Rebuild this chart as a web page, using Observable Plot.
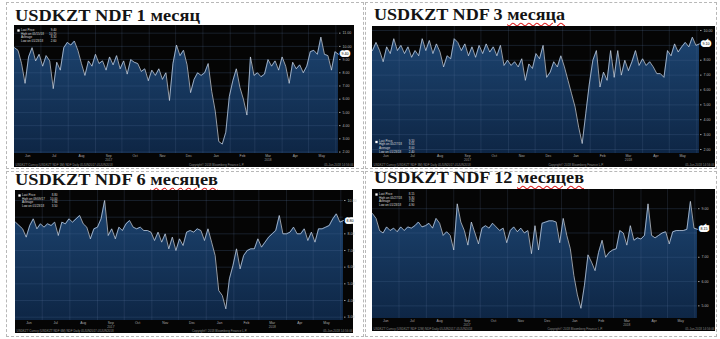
<!DOCTYPE html>
<html><head><meta charset="utf-8">
<script src="https://cdn.jsdelivr.net/npm/d3@7"></script>
<script src="https://cdn.jsdelivr.net/npm/@observablehq/plot@0.6"></script>
<style>
html,body{margin:0;padding:0;background:#fff}
body{width:720px;height:339px;overflow:hidden;position:relative}
.panel{position:absolute;border:1px dashed #b8b8b8;box-sizing:border-box}
.title{position:absolute;font-family:"Liberation Serif","Times New Roman",serif;font-weight:bold;font-size:16px;color:#141414;white-space:nowrap;line-height:1;transform-origin:0 0}
.sp{text-decoration:underline wavy #d22;text-decoration-thickness:0.5px;text-underline-offset:1.5px}
.chart{position:absolute;background:#050505}
.chart svg{display:block}
</style></head><body>
<script>
// ---- data ----
const startDate = "2017-06-01";
const stepDays = 4;
const titles = ["USDKZT NDF 1 месяц", "USDKZT NDF 3 месяца", "USDKZT NDF 6 месяцев", "USDKZT NDF 12 месяцев"];
const tenors = ["1M", "3M", "6M", "12M"];
const values1M = [9.9,9.7,8.7,7.2,9.2,9.9,8.9,9.4,8.5,9.3,
8.9,6.8,8.8,8.2,9.9,10.3,10.1,10.4,9.7,8.7,
7.8,8.9,8.5,9.4,8.7,8.9,8.2,9.2,8.6,9.3,
8.3,8.9,7.9,9.0,8.8,8.7,8.1,8.3,7.4,8.2,
7.8,8.3,7.5,8.0,5.9,8.7,10.1,9.3,9.7,8.6,
6.5,7.5,8.0,7.8,8.0,8.7,6.6,5.1,2.8,2.6,
3.5,6.2,7.4,8.3,6.9,6.0,4.8,9.2,7.8,8.0,
7.7,7.9,9.0,8.5,8.9,8.2,9.2,8.5,7.2,8.8,
8.3,8.6,8.0,8.5,9.6,9.7,9.4,10.7,9.4,9.3,
8.2,9.6,9.4];
const values3M = [8.65,9.2,8.65,7.9,8.9,8.45,9.45,8.65,9.0,8.45,
8.9,8.2,8.65,8.3,9.45,8.65,9.33,8.45,9.1,8.55,
7.55,8.3,8.1,9.45,9.2,8.65,9.1,8.3,8.9,8.2,
9.0,8.45,9.1,8.55,8.9,8.3,9.0,7.65,8.0,7.65,
7.9,7.55,8.1,6.65,7.75,7.45,8.45,8.1,9.0,6.85,
7.2,7.9,7.55,8.3,7.55,6.65,5.75,4.85,3.5,2.4,
4.4,6.4,8.0,8.65,6.2,7.2,6.65,8.65,6.85,8.65,
7.0,8.0,7.3,7.9,8.65,7.65,8.1,7.65,7.9,7.55,
7.1,7.1,6.85,8.65,8.3,9.1,8.55,8.9,9.2,8.9,
9.55,9.0,9.1];
const values6M = [8.7,8.5,8.3,7.8,8.5,8.9,8.3,8.6,8.4,8.6,
8.5,8.7,7.9,8.7,8.6,8.9,8.7,8.9,9.1,8.6,
8.4,7.7,8.3,8.4,8.9,10.0,7.9,8.3,7.7,8.4,
8.2,8.6,8.8,8.4,8.3,8.4,8.2,8.2,8.1,7.6,
8.1,7.5,8.0,7.1,7.8,7.0,7.7,7.3,8.1,8.2,
8.1,8.3,8.2,7.6,8.3,7.5,6.7,4.6,4.3,3.5,
5.3,6.1,7.1,5.9,6.7,7.0,7.1,7.1,7.7,7.2,
7.5,7.8,8.0,8.2,9.1,8.0,8.0,8.1,8.4,8.0,
8.0,8.3,7.6,8.1,7.5,8.3,8.3,8.4,8.5,8.9,
9.2,8.7,8.8];
const values12M = [8.8,8.6,8.1,8.0,8.25,8.1,8.2,8.05,8.25,8.1,
8.25,8.2,8.3,8.45,8.25,8.3,8.4,8.2,8.6,8.4,
7.9,8.05,7.9,7.3,9.2,8.45,8.1,7.5,8.45,8.0,
7.55,8.2,8.3,8.2,8.4,8.25,8.1,8.2,7.6,8.1,
8.25,8.05,8.2,8.0,8.1,7.15,8.3,7.3,8.4,8.45,
8.5,8.5,8.45,7.6,8.6,7.9,7.35,6.25,5.45,4.9,
5.85,7.1,6.8,6.45,7.2,7.7,7.0,7.2,7.3,7.35,
8.1,8.0,7.5,8.3,7.7,7.8,7.75,7.9,9.2,7.9,
7.8,7.9,8.0,8.05,7.55,8.05,8.1,8.1,8.1,8.15,
9.3,8.2,8.15];
const ticks1M = [2,3,4,5,6,7,8,9,10,11];
const ticks3M = [2,3,4,5,6,7,8,9,10];
const ticks6M = [3,4,5,6,7,8,9,10];
const ticks12M = [5,6,7,8,9];
const monthLabels = ["Jun","Jul","Aug","Sep","Oct","Nov","Dec","Jan","Feb","Mar","Apr","May"];
const monthStarts = ["2017-07-01","2017-08-01","2017-09-01","2017-10-01","2017-11-01","2017-12-01","2018-01-01","2018-02-01","2018-03-01","2018-04-01","2018-05-01","2018-06-01"];
const monthMids = ["2017-06-16","2017-07-16","2017-08-16","2017-09-16","2017-10-16","2017-11-16","2017-12-16","2018-01-16","2018-02-15","2018-03-16","2018-04-16","2018-05-16"];
const yearLabels = ["2017","2018"];
const yearAt = ["2017-09-16","2018-03-16"];
const footerMid = "Copyright© 2018 Bloomberg Finance L.P.";
const footerRight = "05-Jun-2018 14:56:06";

// ---- layout ----
const layout = [
  {values: values1M, ticks: ticks1M, box:[6,2,358,167], title:[15,8,185], chart:[14,25,340,142], mr:16, mb:14, y:[1.89,11.58], legend:"top"},
  {values: values3M, ticks: ticks3M, box:[365,2,352,167], title:[374,6.5,191], chart:[372,26,343,141], mr:16, mb:14, y:[1.73,10.27], legend:"bottom"},
  {values: values6M, ticks: ticks6M, box:[6,171,358,166], title:[15,171.5,203], chart:[15,190,338,143], mr:10, mb:13, y:[2.8,10.6], legend:"top"},
  {values: values12M, ticks: ticks12M, box:[365,171,352,166], title:[374,169.5,210], chart:[372,189,343,142], mr:18, mb:13, y:[4.48,9.79], legend:"top"}
];

const parse = d3.utcParse("%Y-%m-%d");
const start = parse(startDate);
const fmtD = d3.utcFormat("%m/%d/%y");

layout.forEach((L, k) => {
  const box = document.createElement("div");
  box.className = "panel";
  Object.assign(box.style, {left:L.box[0]+"px", top:L.box[1]+"px", width:L.box[2]+"px", height:L.box[3]+"px"});
  document.body.appendChild(box);

  const t = document.createElement("div");
  t.className = "title";
  const words = titles[k].split(" ");
  const last = words.pop();
  t.innerHTML = words.join(" ") + " " + (k === 0 ? last : `<span class="sp">${last}</span>`);
  Object.assign(t.style, {left:L.title[0]+"px", top:L.title[1]+"px"});
  document.body.appendChild(t);
  const w = t.getBoundingClientRect().width;
  t.style.transform = `scale(${L.title[2]/w}, 1)`;

  const data = L.values.map((v, i) => ({date: d3.utcDay.offset(start, i*stepDays), v}));
  const xEnd = data[data.length-1].date;
  const [y0, y1] = L.y;
  const vals = L.values;
  const lastV = vals[vals.length-1];
  const pxPerUnit = (L.chart[3] - L.mb) / (y1 - y0);
  const axisTicks = L.ticks.filter(d => Math.abs(d - lastV) * pxPerUnit > 4.5);
  const iMax = d3.maxIndex(vals), iMin = d3.minIndex(vals);
  const legLabels = `Last Price\nHigh on ${fmtD(data[iMax].date)}\nAverage\nLow on ${fmtD(data[iMin].date)}`;
  const legVals = `${lastV.toFixed(2)}\n${vals[iMax].toFixed(2)}\n${d3.mean(vals).toFixed(2)}\n${vals[iMin].toFixed(2)}`;
  const legTop = L.legend === "top";
  const legAnchor = legTop ? "top-left" : "bottom-left";
  const legDy = legTop ? 3 : -1;
  const footerLeft = `USDKZT Curncy (USDKZT NDF ${tenors[k]}) NDF Daily 05JUN2017-05JUN2018`;

  const svg = Plot.plot({
    width: L.chart[2], height: L.chart[3],
    marginLeft: 0, marginTop: 0, marginRight: L.mr, marginBottom: L.mb,
    style: {background: "#050505", color: "#bbb", fontFamily: "Liberation Sans, Arial, sans-serif", overflow: "visible"},
    x: {type: "utc", domain: [start, xEnd], axis: null, label: null},
    y: {type: "linear", domain: [y0, y1], axis: null, label: null},
    marks: [
      Plot.areaY(data, {x: "date", y1: () => y0, y2: "v", fill: `url(#grad${k})`}),
      Plot.ruleY(L.ticks, {stroke: "#4a6a92", strokeOpacity: 0.45, strokeWidth: 0.6}),
      Plot.ruleX(monthStarts.map(parse), {stroke: "#6a82a4", strokeOpacity: 0.3, strokeWidth: 0.6}),
      Plot.lineY(data, {x: "date", y: "v", stroke: "#d4dcea", strokeWidth: 0.7}),
      Plot.axisY(axisTicks, {anchor: "right", label: null, tickSize: 1.5, tickPadding: 2.5, fontSize: 3.6, tickFormat: d => d.toFixed(2), stroke: "#999", fill: "#bbb"}),
      Plot.text([lastV], {y: d => d, frameAnchor: "right", dx: 3, textAnchor: "start", text: d => d.toFixed(2), fontSize: 3.6, fill: "#000", stroke: "#fff", strokeWidth: 3.6, paintOrder: "stroke", strokeLinejoin: "miter"}),
      Plot.text(monthLabels, {x: (d, i) => parse(monthMids[i]), frameAnchor: "bottom", dy: 3.2, text: d => d, fontSize: 3.4, fill: "#aaa"}),
      Plot.text(yearLabels, {x: (d, i) => parse(yearAt[i]), frameAnchor: "bottom", dy: 7, text: d => d, fontSize: 3.2, fill: "#999"}),
      Plot.text([footerLeft], {frameAnchor: "bottom-left", dx: 1, dy: L.mb - 2, text: d => d, fontSize: 3, fill: "#888"}),
      Plot.text([footerMid], {frameAnchor: "bottom", dy: L.mb - 2, dx: 40, text: d => d, fontSize: 3, fill: "#888"}),
      Plot.text([footerRight], {frameAnchor: "bottom-right", dx: L.mr - 1, dy: L.mb - 2, text: d => d, fontSize: 3, fill: "#888"}),
      Plot.dot([0], {frameAnchor: legAnchor, dx: 4, dy: legTop ? legDy + 2 : legDy - 10.5, symbol: "square", r: 1.3, fill: "#fff", stroke: null}),
      Plot.text([legLabels], {frameAnchor: legAnchor, dx: 6.5, dy: legDy, text: d => d, fontSize: 3, lineHeight: 1.2, fill: "#ddd"}),
      Plot.text([legVals], {frameAnchor: legAnchor, dx: 42, dy: legDy, text: d => d, textAnchor: "end", fontSize: 3, lineHeight: 1.2, fill: "#ddd"})
    ]
  });
  const defs = document.createElementNS("http://www.w3.org/2000/svg", "defs");
  defs.innerHTML = `<linearGradient id="grad${k}" x1="0" y1="0" x2="0" y2="1"><stop offset="0" stop-color="#1c436f"/><stop offset="1" stop-color="#0e2645"/></linearGradient>`;
  svg.insertBefore(defs, svg.firstChild);

  const c = document.createElement("div");
  c.className = "chart";
  Object.assign(c.style, {left:L.chart[0]+"px", top:L.chart[1]+"px", width:L.chart[2]+"px", height:L.chart[3]+"px"});
  c.appendChild(svg);
  document.body.appendChild(c);
});
</script>
</body></html>
